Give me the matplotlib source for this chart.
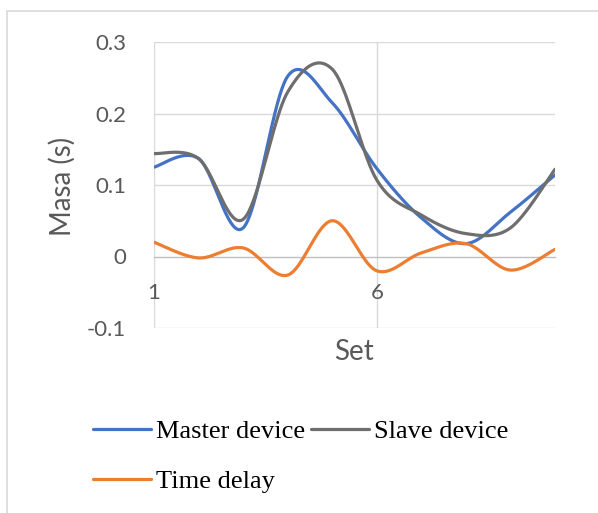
import numpy as np
import matplotlib
matplotlib.use("Agg")
import matplotlib.pyplot as plt
from matplotlib.patches import Rectangle

sets = [1, 2, 3, 4, 5, 6, 7, 8, 9, 10]
master = [0.125, 0.137, 0.040, 0.252, 0.215, 0.123, 0.054, 0.018, 0.062, 0.114]
slave = [0.144, 0.137, 0.052, 0.230, 0.262, 0.107, 0.058, 0.032, 0.040, 0.122]
delay = [0.020, -0.002, 0.012, -0.026, 0.050, -0.020, 0.005, 0.018, -0.019, 0.010]
series_names = ["Master device", "Slave device", "Time delay"]
colors = ["#4472C4", "#6E6E6E", "#ED7D31"]
xticks = [1, 6]
yticks = [-0.1, 0, 0.1, 0.2, 0.3]
ytick_labels = ["-0.1", "0", "0.1", "0.2", "0.3"]


def excel_smooth(x, y, n=40):
    x = np.asarray(x, float)
    y = np.asarray(y, float)
    P = np.column_stack([x, y])
    Pext = np.vstack([P[0], P, P[-1]])
    out = []
    t = np.linspace(0, 1, n)[:, None]
    for i in range(len(P) - 1):
        p0, p1, p2, p3 = Pext[i], Pext[i + 1], Pext[i + 2], Pext[i + 3]
        c1 = p1 + (p2 - p0) / 6.0
        c2 = p2 - (p3 - p1) / 6.0
        seg = ((1 - t) ** 3) * p1 + 3 * ((1 - t) ** 2) * t * c1 + 3 * (1 - t) * t ** 2 * c2 + t ** 3 * p2
        out.append(seg if i == 0 else seg[1:])
    pts = np.vstack(out)
    return pts[:, 0], pts[:, 1]


W, H = 598, 513
fig = plt.figure(figsize=(W / 100, H / 100), dpi=100)
fig.patch.set_facecolor("white")

# chart-area border
fig.add_artist(Rectangle((7 / W, -0.05), 1.2, 1 - 11 / H + 0.05, transform=fig.transFigure,
                         fill=False, edgecolor="#D9D9D9", linewidth=1.2))

left, right, top, bottom = 154 / W, 555 / W, 42 / H, 328 / H
ax = fig.add_axes([left, 1 - bottom, right - left, bottom - top])
ax.set_xlim(1, 10)
ax.set_ylim(-0.1, 0.3)

grid_c = "#D9D9D9"
for yv in yticks:
    if yv != 0:
        ax.axhline(yv, color=grid_c, linewidth=1.0, zorder=1)
for xv in xticks:
    ax.axvline(xv, color=grid_c, linewidth=1.0, zorder=1)

for s in ["top", "right", "left"]:
    ax.spines[s].set_visible(False)
ax.spines["bottom"].set_position(("data", 0))
ax.spines["bottom"].set_color("#BFBFBF")
ax.spines["bottom"].set_linewidth(1.0)
ax.spines["bottom"].set_zorder(1.5)

font = "Lato"
tick_c = "#595959"
ax.set_xticks(xticks)
ax.set_xticklabels([str(v) for v in xticks], fontsize=16, color=tick_c, family=font)
ax.set_yticks(yticks)
ax.set_yticklabels(ytick_labels, fontsize=16, color=tick_c, family=font)
ax.tick_params(axis="x", length=0, pad=19)
ax.tick_params(axis="y", length=0, pad=20)

handles = []
for ys, c, name in zip([master, slave, delay], colors, series_names):
    sx, sy = excel_smooth(sets, ys)
    ln, = ax.plot(sx, sy, color=c, linewidth=2.3, solid_capstyle="round", zorder=3, label=name)
    handles.append(ln)

fig.text(62 / W, 1 - 186 / H, "Masa (s)", rotation=90, ha="center", va="center",
         fontsize=20, color=tick_c, family=font)
fig.text(354 / W, 1 - 352 / H, "Set", ha="center", va="center",
         fontsize=20, color=tick_c, family=font)

leg = fig.legend([handles[0], handles[2], handles[1]],
                 [series_names[0], series_names[2], series_names[1]],
                 ncol=2, loc="upper left", bbox_to_anchor=(93 / W, 1 - 420 / H),
                 frameon=False, borderpad=0, borderaxespad=0,
                 handlelength=2.2, handletextpad=0.2, columnspacing=0.2,
                 labelspacing=0.98,
                 prop={"family": "Liberation Serif", "size": 19})

fig.savefig("out.png", dpi=100, facecolor="white")
